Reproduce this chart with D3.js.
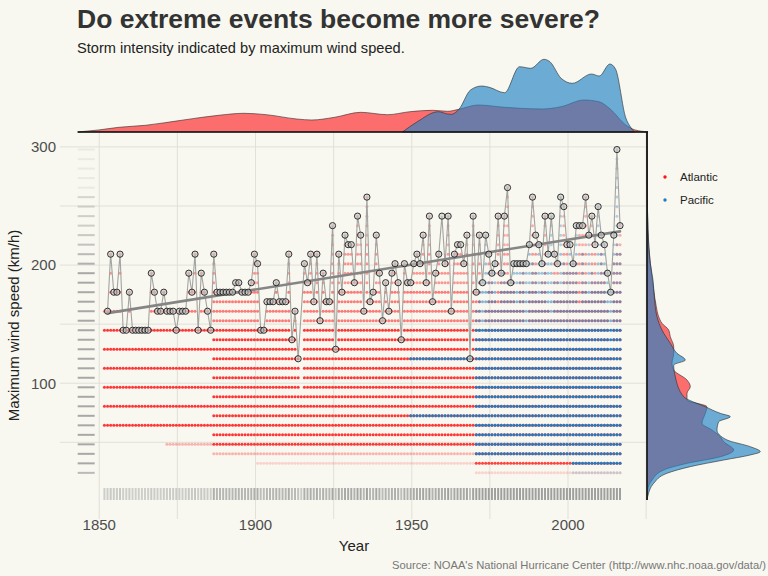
<!DOCTYPE html>
<html><head><meta charset="utf-8">
<script src="https://cdn.jsdelivr.net/npm/d3@7"></script>
<style>
html,body{margin:0;padding:0;background:#f8f8f0;}
svg{display:block;font-family:"Liberation Sans",Arial,Helvetica,sans-serif;}
</style></head><body>
<svg id="chart" width="768" height="576"></svg>
<script>
// ---------------- DATA ----------------
const KT_TO_KMH = 1.609344;
const xTicks = [1850, 1900, 1950, 2000];
const xMinorTicks = [1875, 1925, 1975, 2025];
const yTicks = [100, 200, 300];
const yMinorTicks = [50, 150, 250];

// annual maximum (both basins), knots, 1852..2016 (null = no point)
const maxFirstYear = 1852;
const annualMaxKt = [
  100,130,110,110,130,90,90,110,90,90,
  90,90,90,90,120,110,100,100,110,100,
  100,100,90,100,100,100,120,110,130,90,
  120,110,100,90,130,110,110,110,110,110,
  110,115,115,110,110,110,115,130,125,90,
  90,105,105,105,115,105,105,105,130,85,
  100,75,null,125,115,130,105,130,95,120,
  105,105,145,80,130,110,140,135,135,115,
  150,140,100,160,105,110,140,120,95,115,
  100,120,125,115,85,125,115,115,125,130,
  125,140,115,150,105,120,130,150,125,150,
  100,130,135,135,125,140,75,150,110,140,
  115,140,130,120,125,150,120,150,165,115,
  125,125,125,125,125,135,160,140,135,125,
  150,130,150,130,125,160,155,135,135,125,
  145,145,145,160,140,150,135,155,140,135,
  120,110,140,185,145
];
// linear trend of the annual maxima, as drawn: [year, knots]
const trendKt = [[1852, 99], [2016, 142]];

// Atlantic column tops (knots), 1851..2016
const atlFirstYear = 1851;
const atlanticTopKt = [
  100,100,130,110,110,130,90,90,110,90,
  90,90,90,90,90,120,110,100,100,110,
  100,100,100,90,100,100,100,120,110,130,
  90,120,110,100,90,130,110,110,110,110,
  110,110,115,115,110,110,110,115,130,125,
  90,90,105,105,105,115,105,105,105,130,
  85,100,75,55,125,115,130,105,130,95,
  120,105,105,145,80,130,110,140,135,135,
  115,150,140,100,160,105,110,140,120,95,
  115,100,120,125,115,85,125,115,115,125,
  130,125,140,115,150,105,120,130,120,125,
  150,100,130,135,135,125,140,75,150,110,
  140,85,100,130,120,105,150,120,150,165,
  115,115,100,115,125,90,110,160,140,105,
  115,150,100,95,130,125,110,155,135,120,
  125,125,145,145,160,105,150,135,115,135,
  120,100,75,125,135,145
];
// Atlantic lowest rows: [fromYear, toYear, floorKt, stepKt, floorRowAlpha]
const atlanticFloors = [[1851,1870,40,10,0.85],[1871,1885,30,10,0.3],[1886,1969,25,5,0.3],[1970,2016,20,5,0.8]];
// scattered low rows [kt, fromYear, toYear]
const atlanticSparseRows = [[20,1900,1969],[15,1970,2016]];

// Pacific column tops (knots), 1970..2016
const pacFirstYear = 1970;
const pacificTopKt = [
  100,115,115,140,120,120,125,100,120,120,
  115,115,125,125,125,125,125,135,125,120,
  135,125,125,130,150,115,115,160,125,120,
  135,125,145,100,130,115,140,120,115,155,
  140,135,120,110,140,185,130
];
const pacificEarlyRows = [[45,1949,1969],[75,1949,1968]];
const pacificFloors = [[1970,2000,25],[2001,2016,20]];
const pacificSparseRows = [[15,2001,2016]];

// marginal densities: top = [year, density], right = [km/h, density]
const topDensAtlantic = [[1843.1,0],[1849.7,2],[1856.3,4.7],[1864.8,6.7],[1876.9,12],[1889,17],[1896.3,18.7],[1903.5,17.3],[1913.2,13],[1918,12],[1925.3,14.7],[1933.7,19.7],[1942.2,17.3],[1949.4,20.3],[1956.7,21.7],[1961.5,20.7],[1965.1,22.7],[1971.2,27],[1979.7,24.7],[1991.8,23],[1997.8,25.3],[2005.1,32],[2009.9,30.3],[2013.5,23],[2018.5,7],[2021.5,2],[2025.6,0.2]];
const topDensPacific = [[1947,0],[1951.8,10.3],[1958.5,20.3],[1961.5,18],[1962.7,17.7],[1965.1,22.7],[1968.8,42],[1972.4,46],[1974.8,44.7],[1979.7,39.3],[1984.5,65.3],[1988.1,63.7],[1992.3,72.7],[1994.2,70.3],[1997.8,53.7],[2001.4,48.7],[2007.5,58],[2010,56],[2013.4,68],[2015.2,63],[2018.5,14],[2020,5],[2021.3,0]];
const rightDensAtlantic = [[312.6,0],[260,0.3],[229.7,1],[201.5,3.3],[178.9,6.7],[164.8,9.3],[156.3,11.7],[150.7,15],[145,21.7],[139.4,23.3],[130.9,26.7],[125.3,26.7],[116.9,25],[111.2,26.7],[102.7,40],[97.1,43.3],[91.5,40],[85.8,40],[80.1,60],[74.5,58.3],[66.1,55],[60.4,65],[54.7,73.3],[50.5,76.7],[43.5,86.7],[37.8,73.3],[32.2,40],[26.6,16.7],[18.1,5],[9.6,0.7],[1.2,0]];
const rightDensPacific = [[312.6,0],[260,0.3],[229.7,1],[201.5,3.3],[187.3,6],[173.2,7.3],[156.3,10],[145,15],[133.8,23.3],[125.3,30],[119.6,38.3],[115.4,26.7],[105.5,28.3],[88.6,36.7],[80.1,58.3],[74.5,73.3],[71.7,83.3],[67.4,71.7],[60.4,70],[52,80],[46.3,103.3],[42.1,113.3],[39.3,103.3],[35,76.7],[29.4,43.3],[23.8,20],[15.3,6.7],[4,0.7],[1.2,0]];

const basins = ["Atlantic", "Pacific"];
const basinColors = ["#ff1414", "#1f7cc2"];

// ---------------- LAYOUT ----------------
const svg = d3.select("#chart");
const W = 768, H = 576;
const P = {left: 60, right: 648, top: 132, bottom: 519};
svg.append("rect").attr("width", W).attr("height", H).attr("fill", "#f8f8f0");

const x = d3.scaleLinear().domain([1837.44, 2025.6]).range([P.left, P.right]);
const y = d3.scaleLinear().domain([-14.9, 312.6]).range([P.bottom, P.top]);
const kmh = kt => kt * KT_TO_KMH;
const DATE_FRAC = 0.65;

// grid
const grid = svg.append("g").attr("stroke", "#deddd6").attr("stroke-width", 0.9);
xTicks.concat(xMinorTicks).forEach(t => grid.append("line")
  .attr("x1", x(t)).attr("x2", x(t)).attr("y1", P.top).attr("y2", P.bottom));
yTicks.concat(yMinorTicks).forEach(t => grid.append("line")
  .attr("x1", P.left).attr("x2", P.right).attr("y1", y(t)).attr("y2", y(t)));

// ---- build scatter observations from the read column tops ----
function alphaFor(kt, b) {
  if (kt <= 90) return b ? 0.97 : 0.85;
  return kt <= 110 ? 0.55 : kt <= 130 ? 0.42 : 0.32;
}
const dots = [];
atlanticTopKt.forEach((top, i) => {
  const yr = atlFirstYear + i;
  const f = atlanticFloors.find(r => yr >= r[0] && yr <= r[1]);
  for (let k = f[2]; k <= top; k += f[3]) {
    dots.push({year: yr, kt: k, b: 0, a: k === f[2] ? f[4] : alphaFor(k, 0)});
  }
});
atlanticSparseRows.forEach(r => { for (let yr = r[1]; yr <= r[2]; yr++) dots.push({year: yr, kt: r[0], b: 0, a: 0.16}); });
pacificEarlyRows.forEach(r => { for (let yr = r[1]; yr <= r[2]; yr++) dots.push({year: yr, kt: r[0], b: 1, a: 0.95}); });
pacificTopKt.forEach((top, i) => {
  const yr = pacFirstYear + i;
  const f = pacificFloors.find(r => yr >= r[0] && yr <= r[1]);
  for (let k = f[2]; k <= top; k += 5) dots.push({year: yr, kt: k, b: 1, a: alphaFor(k, 1)});
});
pacificSparseRows.forEach(r => { for (let yr = r[1]; yr <= r[2]; yr++) dots.push({year: yr, kt: r[0], b: 1, a: 0.18}); });

// marginal densities
const topY = d3.scaleLinear().domain([0, 80]).range([P.top, P.top - 80]);
const rightX = d3.scaleLinear().domain([0, 120]).range([647, 767]);
const topArea = d3.area().x(d => x(d[0])).y0(topY(0)).y1(d => topY(d[1])).curve(d3.curveMonotoneX);
const rightArea = d3.area().y(d => y(d[0])).x0(rightX(0)).x1(d => rightX(d[1])).curve(d3.curveMonotoneY);
const densColors = ["#ff1a1f", "#2383c4"];
const mg = svg.append("g");
[[topDensAtlantic, 0], [topDensPacific, 1]].forEach(([d, b]) => mg.append("path")
  .attr("d", topArea(d)).attr("fill", densColors[b]).attr("fill-opacity", b ? 0.66 : 0.62)
  .attr("stroke", "#2a2a2a").attr("stroke-width", 0.6));
[[rightDensAtlantic, 0], [rightDensPacific, 1]].forEach(([d, b]) => mg.append("path")
  .attr("d", rightArea(d)).attr("fill", densColors[b]).attr("fill-opacity", b ? 0.66 : 0.62)
  .attr("stroke", "#2a2a2a").attr("stroke-width", 0.6));
mg.append("line").attr("x1", x(topDensAtlantic[0][0])).attr("x2", x(topDensAtlantic[topDensAtlantic.length-1][0]))
  .attr("y1", topY(0)).attr("y2", topY(0)).attr("stroke", "#111").attr("stroke-width", 1.4);
mg.append("line").attr("x1", rightX(0)).attr("x2", rightX(0))
  .attr("y1", y(rightDensAtlantic[0][0])).attr("y2", y(rightDensAtlantic[rightDensAtlantic.length-1][0]))
  .attr("stroke", "#111").attr("stroke-width", 1.4);

// scatter
const sg = svg.append("g");
[0, 1].forEach(b => sg.selectAll(null).data(dots.filter(d => d.b === b)).enter().append("circle")
  .attr("cx", d => x(d.year + DATE_FRAC)).attr("cy", d => y(kmh(d.kt))).attr("r", 1.5)
  .attr("fill", basinColors[b]).attr("fill-opacity", d => d.a));

// rugs
const perYear = d3.rollup(dots, v => v.length, d => d.year);
const perLevel = d3.rollup(dots, v => v.length, d => d.kt);
const rugBottom = y(1.2), rugLen = 12, rugLeft = x(1843.1), rugLenX = 17;
const rg = svg.append("g").attr("stroke", "#9a9a9a");
Array.from(perYear).forEach(([yr, n]) => rg.append("line")
  .attr("x1", x(yr + DATE_FRAC)).attr("x2", x(yr + DATE_FRAC))
  .attr("y1", rugBottom).attr("y2", rugBottom - rugLen).attr("stroke-width", 2)
  .attr("stroke-opacity", Math.min(0.95, 0.3 + n / 45)));
Array.from(perLevel).forEach(([k, n]) => rg.append("line")
  .attr("x1", rugLeft).attr("x2", rugLeft + rugLenX)
  .attr("y1", y(kmh(k))).attr("y2", y(kmh(k))).attr("stroke-width", 2)
  .attr("stroke-opacity", n < 4 ? 0.15 : Math.min(0.85, 0.35 + n / 200)));

// annual maxima
const maxPts = annualMaxKt.map((v, i) => ({year: maxFirstYear + i, kt: v})).filter(d => d.kt != null);
const line = d3.line().x(d => x(d.year + DATE_FRAC)).y(d => y(kmh(d.kt)));
svg.append("path").attr("d", line(maxPts)).attr("fill", "none").attr("stroke", "#a3a3a0").attr("stroke-width", 1.1);

// linear trend
svg.append("path").attr("d", d3.line().x(d => x(d[0] + DATE_FRAC)).y(d => y(kmh(d[1])))(trendKt))
  .attr("fill", "none").attr("stroke", "#858585").attr("stroke-width", 2.6).attr("stroke-linecap", "round");

svg.append("g").selectAll("circle").data(maxPts).enter().append("circle")
  .attr("cx", d => x(d.year + DATE_FRAC)).attr("cy", d => y(kmh(d.kt))).attr("r", 3.1)
  .attr("fill", "#c4c4c4").attr("fill-opacity", 0.55).attr("stroke", "#1e1e1e").attr("stroke-width", 0.9);

// axes labels
const tx = svg.append("g").attr("fill", "#4d4d4d").attr("font-size", 15);
xTicks.forEach(t => tx.append("text").attr("x", x(t)).attr("y", 530).attr("text-anchor", "middle").text(t));
yTicks.forEach(t => tx.append("text").attr("x", 56).attr("y", y(t)).attr("dy", "0.36em").attr("text-anchor", "end").text(t));
svg.append("text").attr("x", (P.left + P.right) / 2).attr("y", 551).attr("text-anchor", "middle")
  .attr("font-size", 15).attr("fill", "#222").text("Year");
svg.append("text").attr("transform", `translate(19,${(P.top + P.bottom) / 2}) rotate(-90)`).attr("text-anchor", "middle")
  .attr("font-size", 15).attr("fill", "#222").text("Maximum wind speed (km/h)");

// title
svg.append("text").attr("x", 77).attr("y", 28).attr("font-size", 26.5).attr("font-weight", "bold")
  .attr("fill", "#333").text("Do extreme events become more severe?");
svg.append("text").attr("x", 77).attr("y", 52.5).attr("font-size", 14.6).attr("fill", "#222")
  .text("Storm intensity indicated by maximum wind speed.");
svg.append("text").attr("x", 766).attr("y", 569).attr("text-anchor", "end").attr("font-size", 11.2).attr("fill", "#777")
  .text("Source: NOAA's National Hurricane Center (http://www.nhc.noaa.gov/data/)");

// legend
const lg = svg.append("g");
basins.forEach((b, i) => {
  lg.append("circle").attr("cx", 665).attr("cy", 177 + i * 23).attr("r", 1.7).attr("fill", basinColors[i]);
  lg.append("text").attr("x", 680).attr("y", 177 + i * 23).attr("dy", "0.35em").attr("font-size", 11.5).attr("fill", "#222").text(b);
});
</script>
</body></html>
